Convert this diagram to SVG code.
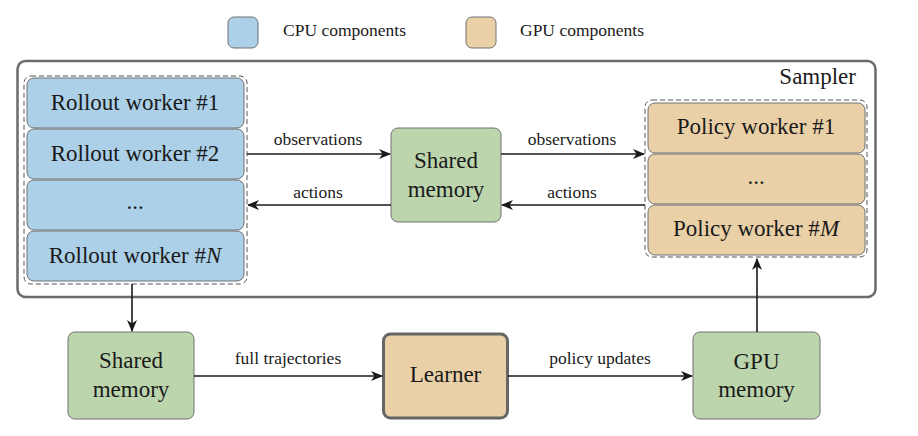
<svg xmlns="http://www.w3.org/2000/svg" width="918" height="436" viewBox="0 0 918 436">
<defs>
<style>
.cpu{fill:#abd0e8;stroke:#707070;stroke-width:1}
.gpu{fill:#e9d0a7;stroke:#707070;stroke-width:1}
.mem{fill:#bdd5ad;stroke:#707070;stroke-width:1}
.dash{fill:none;stroke:#555;stroke-width:1;stroke-dasharray:5,3}
.line{fill:none;stroke:#1a1a1a;stroke-width:1.6}
</style>
<marker id="ah" viewBox="0 0 12 10" refX="11" refY="5" markerWidth="12" markerHeight="10" markerUnits="userSpaceOnUse" orient="auto">
<path d="M0,0 L12,5 L0,10 L3.5,5 z" fill="#1a1a1a"/>
</marker>
</defs>
<rect width="918" height="436" fill="#fff"/>

<g id="legend">
<rect x="228" y="17" width="30" height="31" rx="6" class="cpu"/>
<text x="283" y="36" font-family="Liberation Serif" font-size="17.5" fill="#1a1a1a">CPU components</text>
<rect x="466" y="17" width="30" height="31" rx="6" class="gpu"/>
<text x="520" y="36" font-family="Liberation Serif" font-size="17.5" fill="#1a1a1a">GPU components</text>
</g>

<g id="sampler">
<rect x="17.5" y="61" width="858" height="236" rx="8" fill="none" stroke="#6b6b6b" stroke-width="2.5"/>
<text x="856" y="84" font-family="Liberation Serif" font-size="23" text-anchor="end" fill="#1a1a1a">Sampler</text>
</g>

<g id="rollout-workers">
<rect x="24" y="76" width="223" height="208" rx="7" class="dash"/>
<g id="rollout1"><rect x="27" y="78" width="217" height="50" rx="7" class="cpu"/><text x="135" y="110" font-family="Liberation Serif" font-size="23" text-anchor="middle" fill="#1a1a1a">Rollout worker #1</text></g>
<g id="rollout2"><rect x="27" y="129" width="217" height="50" rx="7" class="cpu"/><text x="135" y="161" font-family="Liberation Serif" font-size="23" text-anchor="middle" fill="#1a1a1a">Rollout worker #2</text></g>
<g id="rollout-dots"><rect x="27" y="180" width="217" height="50" rx="7" class="cpu"/><text x="135" y="209" font-family="Liberation Serif" font-size="23" text-anchor="middle" fill="#1a1a1a">...</text></g>
<g id="rolloutN"><rect x="27" y="231" width="217" height="50" rx="7" class="cpu"/><text x="135" y="263" font-family="Liberation Serif" font-size="23" text-anchor="middle" fill="#1a1a1a">Rollout worker #<tspan font-style="italic">N</tspan></text></g>
</g>

<g id="shared-memory-top">
<rect x="391" y="128" width="110" height="94" rx="7" class="mem"/>
<text x="446" y="168" font-family="Liberation Serif" font-size="23" text-anchor="middle" fill="#1a1a1a">Shared</text>
<text x="446" y="197" font-family="Liberation Serif" font-size="23" text-anchor="middle" fill="#1a1a1a">memory</text>
</g>

<g id="policy-workers">
<rect x="645" y="100" width="222" height="157" rx="7" class="dash"/>
<g id="policy1"><rect x="648" y="103" width="217" height="50" rx="7" class="gpu"/><text x="756" y="134" font-family="Liberation Serif" font-size="23" text-anchor="middle" fill="#1a1a1a">Policy worker #1</text></g>
<g id="policy-dots"><rect x="648" y="154" width="217" height="50" rx="7" class="gpu"/><text x="756" y="184" font-family="Liberation Serif" font-size="23" text-anchor="middle" fill="#1a1a1a">...</text></g>
<g id="policyM"><rect x="648" y="205" width="217" height="50" rx="7" class="gpu"/><text x="756" y="236" font-family="Liberation Serif" font-size="23" text-anchor="middle" fill="#1a1a1a">Policy worker #<tspan font-style="italic">M</tspan></text></g>
</g>

<g id="shared-memory-bottom">
<rect x="68" y="332" width="126" height="87" rx="7" class="mem"/>
<text x="131" y="368" font-family="Liberation Serif" font-size="23" text-anchor="middle" fill="#1a1a1a">Shared</text>
<text x="131" y="397" font-family="Liberation Serif" font-size="23" text-anchor="middle" fill="#1a1a1a">memory</text>
</g>

<g id="learner">
<rect x="383.5" y="334" width="124" height="84" rx="7" fill="#e9d0a7" stroke="#666" stroke-width="3"/>
<text x="445.5" y="382" font-family="Liberation Serif" font-size="23" text-anchor="middle" fill="#1a1a1a">Learner</text>
</g>

<g id="gpu-memory">
<rect x="693" y="332" width="127" height="87" rx="7" class="mem"/>
<text x="756.5" y="369" font-family="Liberation Serif" font-size="23" text-anchor="middle" fill="#1a1a1a">GPU</text>
<text x="756.5" y="397" font-family="Liberation Serif" font-size="23" text-anchor="middle" fill="#1a1a1a">memory</text>
</g>

<g id="connectors">
<line x1="247" y1="154" x2="390" y2="154" class="line" marker-end="url(#ah)"/>
<text x="318" y="145" font-family="Liberation Serif" font-size="17.5" text-anchor="middle" fill="#1a1a1a">observations</text>
<line x1="391" y1="205" x2="248" y2="205" class="line" marker-end="url(#ah)"/>
<text x="318" y="198" font-family="Liberation Serif" font-size="17.5" text-anchor="middle" fill="#1a1a1a">actions</text>
<line x1="501" y1="154" x2="644" y2="154" class="line" marker-end="url(#ah)"/>
<text x="572" y="145" font-family="Liberation Serif" font-size="17.5" text-anchor="middle" fill="#1a1a1a">observations</text>
<line x1="645" y1="205" x2="502" y2="205" class="line" marker-end="url(#ah)"/>
<text x="572" y="198" font-family="Liberation Serif" font-size="17.5" text-anchor="middle" fill="#1a1a1a">actions</text>
<line x1="132" y1="284" x2="132" y2="331" class="line" marker-end="url(#ah)"/>
<line x1="194" y1="376" x2="382" y2="376" class="line" marker-end="url(#ah)"/>
<text x="288" y="364" font-family="Liberation Serif" font-size="17.5" text-anchor="middle" fill="#1a1a1a">full trajectories</text>
<line x1="508" y1="376" x2="692" y2="376" class="line" marker-end="url(#ah)"/>
<text x="600" y="364" font-family="Liberation Serif" font-size="17.5" text-anchor="middle" fill="#1a1a1a">policy updates</text>
<line x1="757" y1="332" x2="757" y2="259" class="line" marker-end="url(#ah)"/>
</g>
</svg>
